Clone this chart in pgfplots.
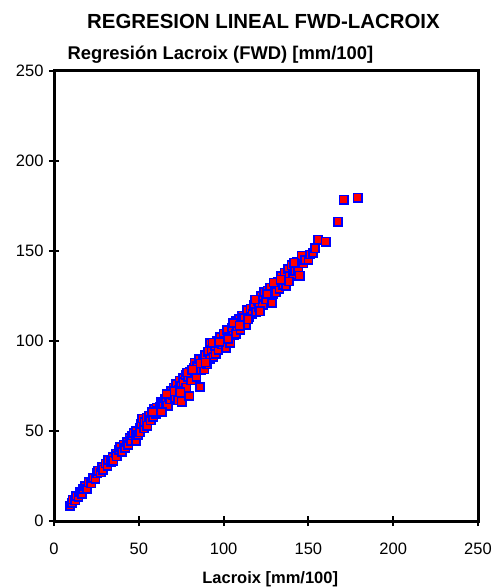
\documentclass[border=0pt]{standalone}
\usepackage{fontspec}
\setmainfont{Liberation Sans}
\usepackage{pgfplots}
\pgfplotsset{compat=1.18}
\definecolor{mkblue}{RGB}{0,0,255}
\definecolor{mkred}{RGB}{255,0,0}
\begin{document}
\begin{tikzpicture}
\begin{axis}[
  scale only axis, width=424pt, height=450pt,
  at={(0,0)}, anchor=south west,
  xmin=0, xmax=250, ymin=0, ymax=250,
  xtick={0,50,...,250}, ytick={0,50,...,250},
  tick align=center, major tick length=10pt, tick pos=left,
  axis line style={line width=3pt},
  every tick/.style={black, line width=2pt},
  /pgf/number format/assume math mode=true,
  tick label style={font=\fontsize{16.5}{19}\selectfont},
  xticklabel style={yshift=-13pt},
  yticklabel style={xshift=-2pt},
  clip=false,
]
\addplot[only marks, mark=square*, mark size=4.1pt,
  mark options={draw=mkblue, fill=mkred, line width=1.6pt}] coordinates {
(9.5,8.5) (10.5,10) (11,12) (12.5,11.5) (13,14) (14.5,13.5) (15.5,16) (16.5,15) (17,18) (18.5,19.5)
(19.5,18) (20.5,21.5) (22,21) (23,24) (24.5,23.5) (25.5,26.5) (26,28) (27.5,27) (28.5,30) (29,28.5)
(30.5,32) (31.5,30.5) (32,34) (33.5,33) (34.5,35.5) (35,33.5) (36.5,37.5) (37,36) (38.5,39.5) (39,41)
(40,38.5) (41,42.5) (42,40.5) (43,44) (43.8,42.2) (44.5,46) (45.5,44.5) (46,47.5) (47,49) (48.3,44.6)
(48.5,50) (49.5,48) (50.5,52) (50.7,49.3) (51.5,54) (52,57) (53,51.5) (53.5,55) (54.5,57.5) (55,53)
(56,58.5) (57,56) (57.5,60) (58.5,58) (59,62) (60,59.5) (60.5,63) (61.5,61) (62.5,63.5) (63,66)
(64,62) (64.5,65) (65.5,68) (66,66) (67,64) (67.5,69.5) (68.5,67.5) (69,72) (70,70) (70.5,74)
(71.5,68.5) (72,76) (73,67) (73.5,73) (74,78) (75,75) (75.3,66.3) (76,79.5) (76.5,77) (77.5,81)
(78,74) (79,80) (79.8,69.4) (80,83) (81,78) (82,82) (82.5,85) (83,88) (84,80) (84.5,86)
(85.5,90) (86,74.4) (87,84) (88,89) (88.6,84.2) (89,92) (90,87) (91,94) (92,90) (92,98.7)
(93,95) (94,91) (95,97) (95.3,92.8) (96,100) (97,95) (98,102) (99,98) (100,104) (101,100)
(101.4,96.3) (102,106) (103,102) (104,99) (105,107) (106,103) (107,111) (107.3,104) (108,108) (109,112)
(110,106) (111,114) (112,112.6) (113,109) (114,117) (115,113) (116,118) (117,115) (118,120) (119,116)
(120,122) (121,119) (122,125) (123,120) (124,127) (125,123) (126,128) (127.4,129.6) (128.5,121) (129,126)
(130,131) (131,127) (132,133) (133,129) (134,136) (135,131) (136,138) (136.8,130.7) (137,134) (138,140)
(139,136) (140,142) (141,137) (142,139) (143,144) (144,140) (144.9,136.3) (146,147.4) (147,143) (148,145)
(150,145) (151,148) (152.7,149) (153.9,151.5) (155.7,156.3) (160.2,155.2) (167.5,166.3) (170.8,178.5) (179.1,179.6)
(58,60.5) (63.5,60.5) (66.5,70.5) (71,72) (74.5,71.5) (78.5,82.5) (81.5,84) (86.5,87.5) (89.5,88)
(93.5,99) (97.5,99.5) (102.5,101) (105.5,110) (109.5,108.5) (114.5,112) (118.5,123) (121.5,116.5)
(125.5,126) (129.5,132.5) (133.5,134) (138.5,133) (141.5,143.5)
};
\node[anchor=base, font=\bfseries\fontsize{20.4}{23}\selectfont] at (rel axis cs:0.494,1) [yshift=42.7pt] {REGRESION LINEAL FWD-LACROIX};
\node[anchor=base west, font=\bfseries\fontsize{18.4}{21}\selectfont] at (rel axis cs:0,1) [xshift=10pt, yshift=11.5pt] {Regresión Lacroix (FWD) [mm/100]};
\node[anchor=base, font=\bfseries\fontsize{16.5}{19}\selectfont] at (rel axis cs:0.51,0) [yshift=-62.3pt] {Lacroix [mm/100]};
\end{axis}
\pgfresetboundingbox
\path[use as bounding box] (-54pt,-67pt) rectangle (443pt,521pt);
\end{tikzpicture}
\end{document}
